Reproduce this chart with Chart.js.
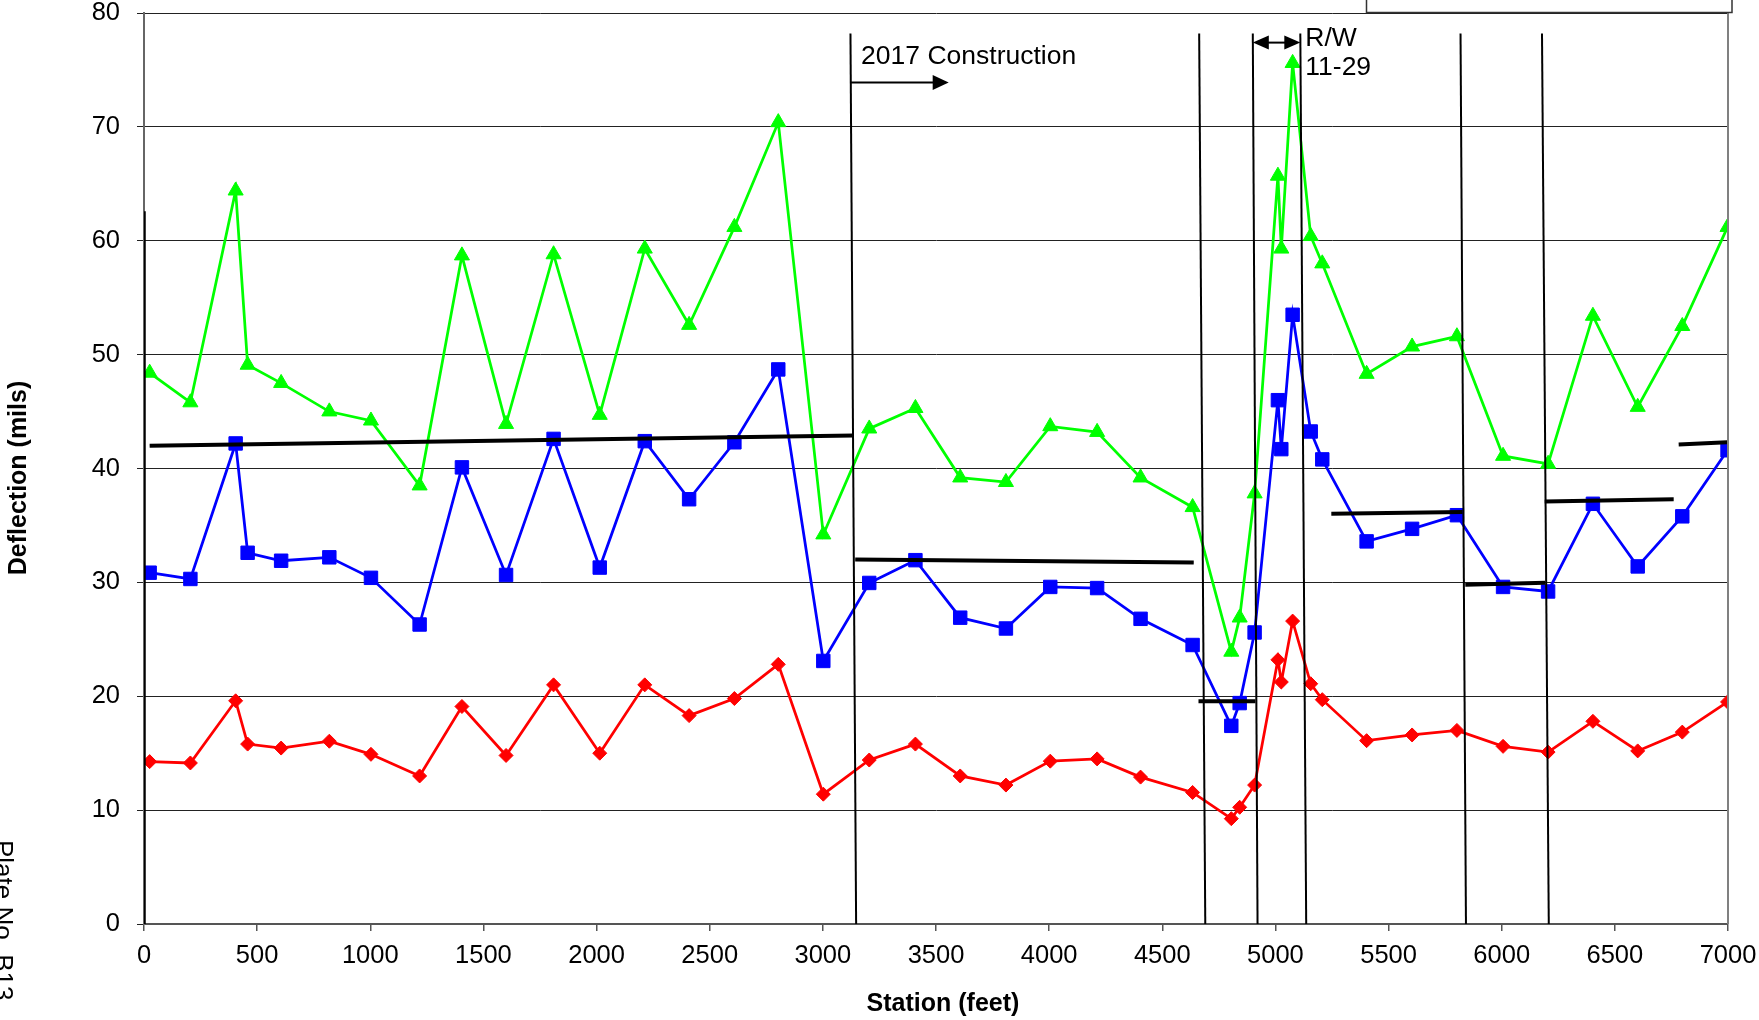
<!DOCTYPE html>
<html><head><meta charset="utf-8">
<script src="https://cdn.jsdelivr.net/npm/chart.js@4.4.0/dist/chart.umd.min.js"></script>
<style>html,body{margin:0;padding:0;background:#fff;overflow:hidden}</style>
</head><body>
<canvas id="c" width="1759" height="1020"></canvas>
<script>
// ---- data (station in feet, deflection in mils) ----
const stations = [25, 205, 405, 458, 606, 819, 1003, 1218, 1405, 1600, 1810, 2014, 2213, 2409, 2609, 2803, 3002, 3205, 3409, 3607, 3809, 4005, 4212, 4404, 4634, 4805, 4842, 4908, 5011, 5026, 5076, 5156, 5207, 5403, 5604, 5802, 6006, 6205, 6403, 6601, 6798, 6998];
const deflGreen = [48.4, 45.8, 64.4, 49.1, 47.5, 45.0, 44.2, 38.5, 58.7, 43.9, 58.8, 44.7, 59.3, 52.6, 61.2, 70.4, 34.2, 43.5, 45.3, 39.2, 38.8, 43.7, 43.2, 39.2, 36.6, 23.9, 26.9, 37.8, 65.7, 59.3, 75.6, 60.4, 58.0, 48.3, 50.7, 51.6, 41.1, 40.4, 53.4, 45.4, 52.5, 61.2];
const deflBlue = [30.85, 30.3, 42.2, 32.6, 31.9, 32.2, 30.4, 26.3, 40.1, 30.65, 42.6, 31.3, 42.4, 37.3, 42.3, 48.7, 23.1, 29.95, 31.95, 26.9, 25.95, 29.6, 29.5, 26.8, 24.5, 17.4, 19.4, 25.6, 46.0, 41.7, 53.5, 43.25, 40.8, 33.6, 34.7, 35.9, 29.6, 29.2, 36.9, 31.4, 35.8, 41.6];
const deflRed = [14.26, 14.14, 19.6, 15.8, 15.45, 16.05, 14.9, 13.0, 19.1, 14.8, 21.0, 15.0, 21.0, 18.3, 19.8, 22.8, 11.4, 14.4, 15.8, 13.0, 12.2, 14.3, 14.5, 12.9, 11.55, 9.25, 10.25, 12.2, 23.2, 21.25, 26.6, 21.1, 19.7, 16.1, 16.6, 17.0, 15.6, 15.1, 17.8, 15.2, 16.85, 19.5];

// section boundary lines: [station, deflection] at top and at bottom
const boundaryTop = [[0, 62.6], [3122, 78.2], [4663, 78.2], [4900, 78.2], [5110, 78.2], [5818, 78.2], [6178, 78.2]];
const boundaryBottom = [[0, 0], [3147, 0], [4690, 0], [4921, 0], [5136, 0], [5842, 0], [6208, 0]];
// section average (black) segments
const avgStart = [[25, 42.0], [3143, 32.0], [4660, 19.56], [5247, 36.03], [5839, 29.8], [6190, 37.1], [6782, 42.1]];
const avgEnd = [[3136, 42.9], [4639, 31.75], [4912, 19.56], [5827, 36.17], [6193, 29.97], [6760, 37.3], [6996, 42.3]];
// annotations (station, deflection)
const constructionArrow = [[3123, 73.9], [3556, 73.9]];
const constructionLabel = {text: '2017 Construction', at: [3169, 75.5]};
const rwArrow = [[4900, 77.4], [5110, 77.4]];
const rwLabel = {lines: ['R/W', '11-29'], at: [5132, 77.1], step: 2.55};

const xTicks = {min: 0, max: 7000, step: 500};
const yTicks = {min: 0, max: 80, step: 10};
const titles = {x: 'Station (feet)', y: 'Deflection (mils)', side: 'Plate No. B13'};

const FONT = "'Liberation Sans', Arial, Helvetica, sans-serif";

function series(vals){ return stations.map((s,i)=>({x:s, y:vals[i]})); }

const datasets = [];
boundaryTop.forEach((t,i)=>{
  datasets.push({data:[{x:t[0],y:t[1]},{x:boundaryBottom[i][0],y:boundaryBottom[i][1]}], borderColor:'#000', borderWidth: i===0?3.5:2, pointRadius:0, showLine:true});
});
avgStart.forEach((s,i)=>{
  datasets.push({data:[{x:s[0],y:s[1]},{x:avgEnd[i][0],y:avgEnd[i][1]}], borderColor:'#000', borderWidth:4, pointRadius:0, showLine:true});
});
datasets.push({data:series(deflRed), borderColor:'#ff0000', backgroundColor:'#ff0000', borderWidth:2.75, pointStyle:'rectRot', pointRadius:7, pointBorderWidth:1, showLine:true});
datasets.push({data:series(deflBlue), borderColor:'#0000ff', backgroundColor:'#0000ff', borderWidth:2.75, pointStyle:'rect', pointRadius:9.5, pointBorderWidth:1, showLine:true});
datasets.push({data:series(deflGreen), borderColor:'#00ff00', backgroundColor:'#00ff00', borderWidth:2.75, pointStyle:'triangle', pointRadius:8.7, pointBorderWidth:1, showLine:true});

function arrowHead(ctx, x, y, dir, len, half){
  ctx.beginPath();
  ctx.moveTo(x, y);
  ctx.lineTo(x - dir*len, y - half);
  ctx.lineTo(x - dir*len, y + half);
  ctx.closePath();
  ctx.fill();
}

const overlay = {
  id: 'overlay',
  afterDatasetsDraw(chart){
    const {ctx, chartArea:a, scales:{x, y}} = chart;
    ctx.save();
    // plot frame right side
    ctx.strokeStyle = '#808080'; ctx.lineWidth = 2;
    ctx.beginPath(); ctx.moveTo(a.right, a.top); ctx.lineTo(a.right, a.bottom); ctx.stroke();
    ctx.fillStyle = '#000'; ctx.strokeStyle = '#000'; ctx.lineWidth = 2;
    // construction arrow
    let x1 = x.getPixelForValue(constructionArrow[0][0]), x2 = x.getPixelForValue(constructionArrow[1][0]);
    let yy = y.getPixelForValue(constructionArrow[0][1]);
    ctx.beginPath(); ctx.moveTo(x1, yy); ctx.lineTo(x2 - 10, yy); ctx.stroke();
    arrowHead(ctx, x2, yy, 1, 16, 7.5);
    // R/W double arrow
    x1 = x.getPixelForValue(rwArrow[0][0]); x2 = x.getPixelForValue(rwArrow[1][0]);
    yy = y.getPixelForValue(rwArrow[0][1]);
    ctx.beginPath(); ctx.moveTo(x1 + 10, yy); ctx.lineTo(x2 - 10, yy); ctx.stroke();
    arrowHead(ctx, x2, yy, 1, 16, 7);
    arrowHead(ctx, x1, yy, -1, 16, 7);
    // labels
    ctx.font = '26.5px ' + FONT; ctx.textBaseline = 'alphabetic'; ctx.textAlign = 'left';
    ctx.fillText(constructionLabel.text, x.getPixelForValue(constructionLabel.at[0]), y.getPixelForValue(constructionLabel.at[1]));
    rwLabel.lines.forEach((t,i)=>{
      ctx.fillText(t, x.getPixelForValue(rwLabel.at[0]), y.getPixelForValue(rwLabel.at[1] - i*rwLabel.step));
    });
    ctx.restore();
  },
  afterDraw(chart){
    const {ctx} = chart;
    ctx.save();
    ctx.fillStyle = '#000';
    ctx.font = 'bold 25px ' + FONT; ctx.textAlign = 'center'; ctx.textBaseline = 'middle';
    ctx.fillText(titles.x, 943, 1004);
    ctx.save(); ctx.translate(19, 478); ctx.rotate(-Math.PI/2); ctx.fillText(titles.y, 0, 0); ctx.restore();
    // side note
    ctx.font = '26px ' + FONT; ctx.textAlign = 'left'; ctx.textBaseline = 'alphabetic';
    ctx.save(); ctx.translate(-5, 840); ctx.rotate(Math.PI/2); ctx.fillText(titles.side, 0, 0); ctx.restore();
    // legend box (cut off at top)
    ctx.strokeStyle = '#333'; ctx.lineWidth = 1.5;
    ctx.strokeRect(1366.5, -10, 365.5, 22.5);
    ctx.restore();
  }
};

function zeroPad(s){ s.paddingTop = 0; s.paddingBottom = 0; s.paddingLeft = 0; s.paddingRight = 0; }

new Chart(document.getElementById('c'), {
  type: 'scatter',
  data: {datasets},
  options: {
    responsive: false, animation: false,
    layout: {padding: {left: 0, right: 31, top: 13, bottom: 0}},
    plugins: {legend: {display: false}, tooltip: {enabled: false}},
    elements: {line: {tension: 0}},
    scales: {
      x: {
        type: 'linear', min: xTicks.min, max: xTicks.max,
        ticks: {stepSize: xTicks.step, color: '#000', font: {family: FONT, size: 25.5, lineHeight: 1}, padding: 12, maxRotation: 0, autoSkip: false, callback: v => String(v)},
        grid: {drawOnChartArea: false, drawTicks: true, tickLength: 7, color: '#555', lineWidth: 1.5},
        border: {color: '#555', width: 2},
        afterFit(s){ s.height = 96; zeroPad(s); }
      },
      y: {
        type: 'linear', min: yTicks.min, max: yTicks.max,
        ticks: {stepSize: yTicks.step, color: '#000', font: {family: FONT, size: 25.5, lineHeight: 1}, padding: 17, callback: v => String(v)},
        grid: {drawOnChartArea: true, drawTicks: true, tickLength: 7, color: '#222', lineWidth: 1},
        border: {color: '#666', width: 2},
        afterFit(s){ s.width = 144; zeroPad(s); }
      }
    }
  },
  plugins: [overlay]
});
</script>
</body></html>
